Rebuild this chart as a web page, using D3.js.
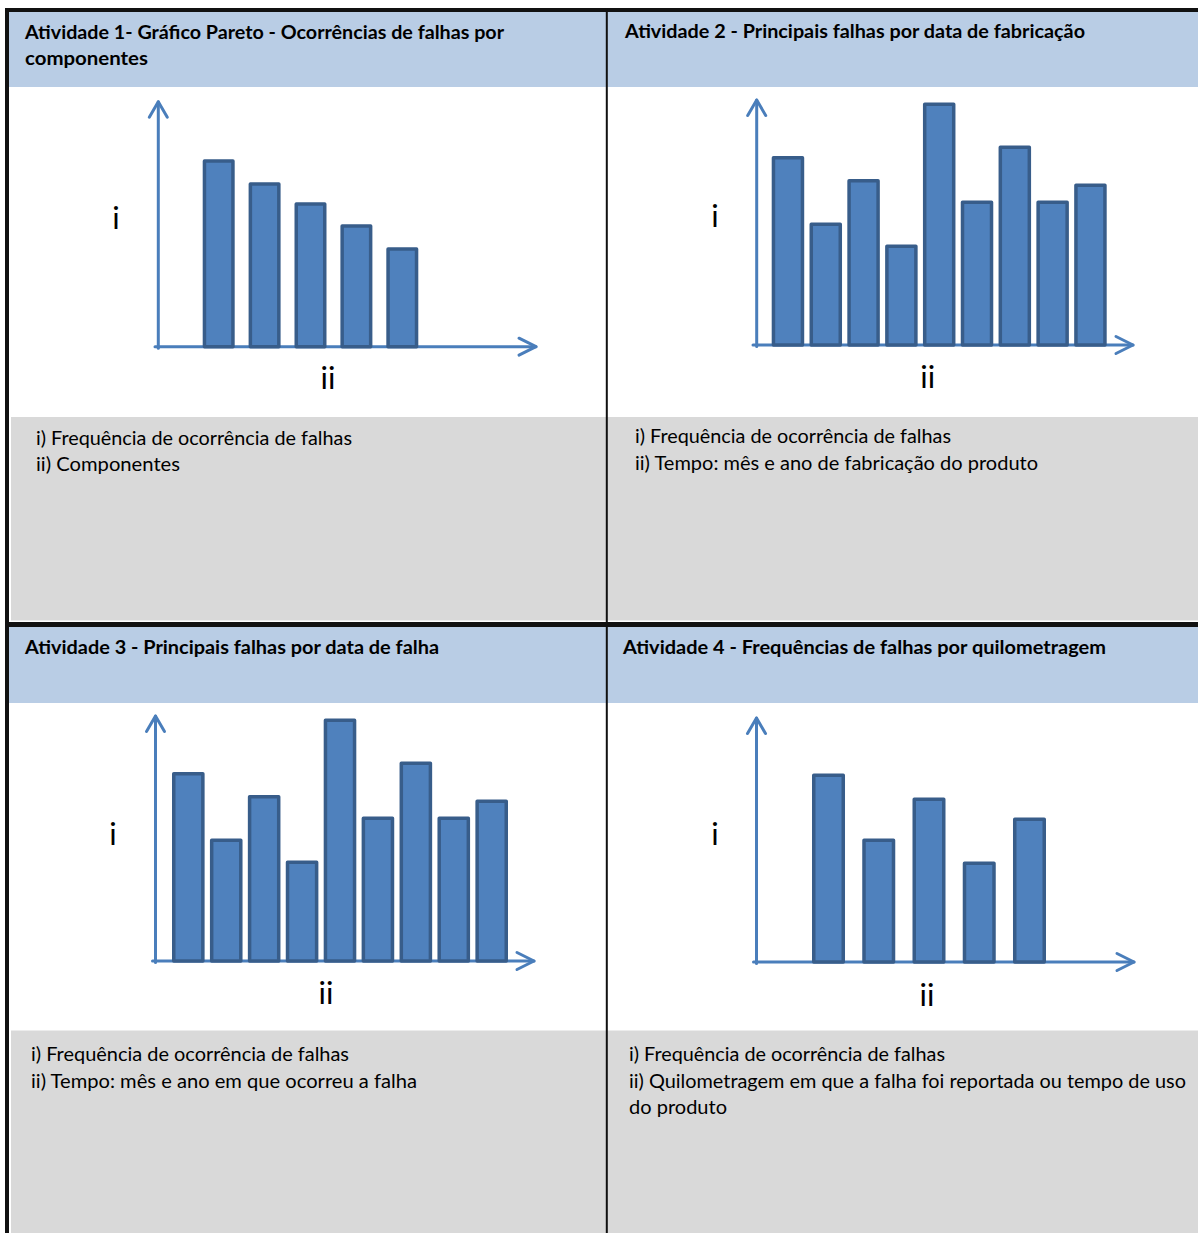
<!DOCTYPE html>
<html><head><meta charset="utf-8">
<script src="https://cdn.jsdelivr.net/npm/d3@7"></script>
<style>
html,body{margin:0;padding:0;background:#fff;}
svg{display:block;}
</style></head><body>
<svg id="chart" width="1198" height="1233"></svg>
<script>
// ---- Text content ----
const titles = [
  ["Atividade 1- Gráfico Pareto - Ocorrências de falhas por", "componentes"],
  ["Atividade 2 - Principais falhas por data de fabricação"],
  ["Atividade 3 - Principais falhas por data de falha"],
  ["Atividade 4 - Frequências de falhas por quilometragem"]
];
const notes = [
  ["i) Frequência de ocorrência de falhas", "ii) Componentes"],
  ["i) Frequência de ocorrência de falhas", "ii) Tempo: mês e ano de fabricação do produto"],
  ["i) Frequência de ocorrência de falhas", "ii) Tempo: mês e ano em que ocorreu a falha"],
  ["i) Frequência de ocorrência de falhas", "ii) Quilometragem em que a falha foi reportada ou tempo de uso", "do produto"]
];
const yAxisLabel = "i";
const xAxisLabel = "ii";

// ---- Data ----
const components = ["C1", "C2", "C3", "C4", "C5"];
const componentFailures = [37.5, 32.9, 28.9, 24.5, 19.9];

const manufactureMonths = ["M1", "M2", "M3", "M4", "M5", "M6", "M7", "M8", "M9"];
const failuresByManufacture = [37.8, 24.5, 33.2, 20.1, 48.5, 28.9, 39.9, 28.9, 32.3];

const failureMonths = ["F1", "F2", "F3", "F4", "F5", "F6", "F7", "F8", "F9"];
const failuresByFailureDate = [37.8, 24.5, 33.2, 20.1, 48.5, 28.9, 39.9, 28.9, 32.3];

const mileageBands = ["K1", "K2", "K3", "K4", "K5"];
const failuresByMileage = [37.7, 24.7, 32.9, 20.1, 28.9];

const series = [
  { cats: components, vals: componentFailures },
  { cats: manufactureMonths, vals: failuresByManufacture },
  { cats: failureMonths, vals: failuresByFailureDate },
  { cats: mileageBands, vals: failuresByMileage }
];

// ---- Layout ----
const layout = [
  { ax: 158.3, axisY: 346.7, tipY: 101.7, xStart: 155, xEnd: 536,
    band: [202.7, 418.3], pad: 0.303,
    iPos: [116, 229], iiPos: [328, 389],
    titleX: 25, titleY: [39, 65], titleLen: [479, 123],
    noteX: 36, noteY: [445, 471], noteLen: [316, 144] },
  { ax: 756.7, axisY: 345, tipY: 100, xStart: 753, xEnd: 1133,
    band: [771.7, 1106.7], pad: 0.14,
    iPos: [715, 227], iiPos: [927.7, 388],
    titleX: 625, titleY: [37.5], titleLen: [460],
    noteX: 635, noteY: [443, 470], noteLen: [316, 403] },
  { ax: 155.5, axisY: 961, tipY: 716, xStart: 152.5, xEnd: 534,
    band: [172, 508], pad: 0.14,
    iPos: [113, 845], iiPos: [326, 1004],
    titleX: 25, titleY: [653.5], titleLen: [414],
    noteX: 31, noteY: [1061, 1088], noteLen: [318, 386] },
  { ax: 756.5, axisY: 962, tipY: 718, xStart: 753.5, xEnd: 1134,
    band: [812, 1046], pad: 0.343,
    iPos: [715, 845], iiPos: [927, 1006],
    titleX: 623, titleY: [653.5], titleLen: [483],
    noteX: 629, noteY: [1061, 1088, 1114], noteLen: [316, 557, 98] }
];

const C = {
  header: "#B9CDE5", note: "#D9D9D9", frame: "#111111",
  barFill: "#4F81BD", barStroke: "#385D8A", axis: "#4A7EBB", text: "#000000"
};

const svg = d3.select("#chart");
const bodyFont = "Lato, 'Open Sans', sans-serif";

// ---- Background cells ----
const bg = svg.append("g");
// header rows
bg.append("rect").attr("x", 9).attr("y", 12).attr("width", 1189).attr("height", 75).attr("fill", C.header);
bg.append("rect").attr("x", 9).attr("y", 627).attr("width", 1189).attr("height", 76).attr("fill", C.header);
// note areas
bg.append("rect").attr("x", 11).attr("y", 417).attr("width", 1187).attr("height", 203.5).attr("fill", C.note);
bg.append("rect").attr("x", 11).attr("y", 1030.5).attr("width", 1187).attr("height", 203).attr("fill", C.note);
// frame lines
bg.append("rect").attr("x", 5).attr("y", 8).attr("width", 1193).attr("height", 4).attr("fill", C.frame);
bg.append("rect").attr("x", 5).attr("y", 8).attr("width", 4).attr("height", 1225).attr("fill", C.frame);
bg.append("rect").attr("x", 5).attr("y", 622).attr("width", 1193).attr("height", 5).attr("fill", C.frame);
bg.append("rect").attr("x", 605.8).attr("y", 8).attr("width", 2).attr("height", 1225).attr("fill", C.frame);

// ---- Panels ----
series.forEach((s, k) => {
  const L = layout[k];
  const g = svg.append("g");

  const x = d3.scaleBand().domain(s.cats).range(L.band).paddingInner(L.pad).paddingOuter(0);
  const y = d3.scaleLinear().domain([0, 50]).range([L.axisY, L.axisY - 250]);

  // axes with open arrow heads
  const axisG = g.append("g").attr("fill", "none").attr("stroke", C.axis)
    .attr("stroke-width", 3).attr("stroke-linecap", "round").attr("stroke-linejoin", "round");
  axisG.append("path").attr("d", d3.line()([[L.ax, L.axisY + 1.5], [L.ax, L.tipY]]));
  axisG.append("path").attr("d", d3.line()([[L.ax - 9, L.tipY + 15.5], [L.ax, L.tipY], [L.ax + 9, L.tipY + 15.5]]));
  axisG.append("path").attr("d", d3.line()([[L.xStart, L.axisY], [L.xEnd, L.axisY]]));
  axisG.append("path").attr("d", d3.line()([[L.xEnd - 17, L.axisY - 8.5], [L.xEnd, L.axisY], [L.xEnd - 17, L.axisY + 8.5]]));

  // bars
  g.append("g").selectAll("rect").data(s.cats.map((c, i) => ({ c, v: s.vals[i] })))
    .join("rect")
    .attr("x", d => x(d.c) + 1.75)
    .attr("width", x.bandwidth() - 3.5)
    .attr("y", d => y(d.v) + 1.75)
    .attr("height", d => y(0) - y(d.v) - 1.75)
    .attr("fill", C.barFill).attr("stroke", C.barStroke)
    .attr("stroke-width", 3.5).attr("stroke-linejoin", "round");

  // axis letters
  g.append("text").attr("x", L.iPos[0]).attr("y", L.iPos[1]).attr("text-anchor", "middle")
    .attr("font-family", bodyFont).attr("font-size", 31).attr("fill", C.text).text(yAxisLabel);
  g.append("text").attr("x", L.iiPos[0]).attr("y", L.iiPos[1]).attr("text-anchor", "middle")
    .attr("font-family", bodyFont).attr("font-size", 31).attr("fill", C.text).text(xAxisLabel);

  // title
  titles[k].forEach((t, j) => {
    g.append("text").attr("x", L.titleX).attr("y", L.titleY[j])
      .attr("font-family", bodyFont).attr("font-weight", 700).attr("font-size", 19)
      .attr("fill", C.text)
      .attr("textLength", L.titleLen[j]).attr("lengthAdjust", "spacingAndGlyphs")
      .text(t);
  });

  // notes
  notes[k].forEach((t, j) => {
    g.append("text").attr("x", L.noteX).attr("y", L.noteY[j])
      .attr("font-family", bodyFont).attr("font-size", 19.5)
      .attr("fill", C.text)
      .attr("textLength", L.noteLen[j]).attr("lengthAdjust", "spacingAndGlyphs")
      .text(t);
  });
});
</script>
</body></html>
